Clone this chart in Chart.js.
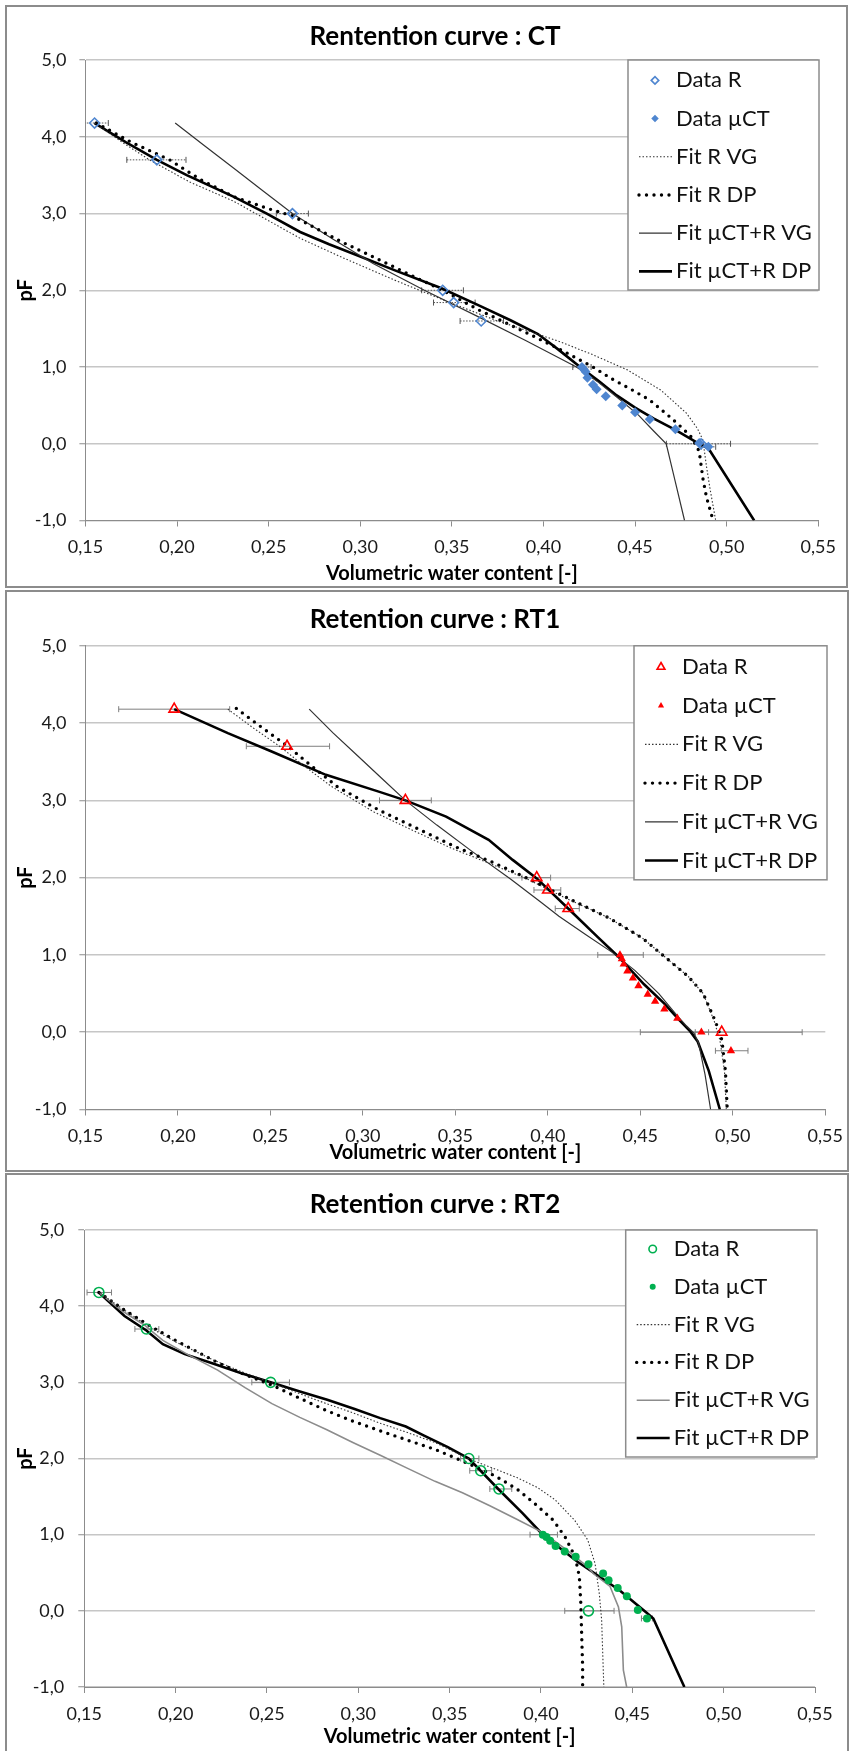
<!DOCTYPE html>
<html>
<head>
<meta charset="utf-8">
<title>Retention curves</title>
<script src="https://cdn.jsdelivr.net/npm/chart.js@4.4.0/dist/chart.umd.min.js"></script>
<style>
  body { margin: 0; background: #fff; }
  #page { position: relative; width: 853px; height: 1751px; overflow: hidden; }
  .frame { position: absolute; border: 2px solid #8c8c8c; box-sizing: border-box; }
  .panel { position: absolute; left: 0; width: 853px; }
</style>
</head>
<body>
<div id="page">
  <div class="frame" style="left:5px;top:5px;width:843px;height:583px"></div>
  <div class="frame" style="left:5px;top:590px;width:844px;height:582px"></div>
  <div class="frame" style="left:5px;top:1173px;width:844px;height:590px"></div>
  <div class="panel" style="top:0;height:588px"><canvas id="ct"></canvas></div>
  <div class="panel" style="top:588px;height:584px"><canvas id="rt1"></canvas></div>
  <div class="panel" style="top:1172px;height:579px"><canvas id="rt2"></canvas></div>
</div>
<script>
// axes and legend
const xTickVals = [0.15, 0.20, 0.25, 0.30, 0.35, 0.40, 0.45, 0.50, 0.55];
const xTickLabels = ['0,15', '0,20', '0,25', '0,30', '0,35', '0,40', '0,45', '0,50', '0,55'];
const yTickVals = [-1, 0, 1, 2, 3, 4, 5];
const yTickLabels = ['-1,0', '0,0', '1,0', '2,0', '3,0', '4,0', '5,0'];
const seriesLabels = ['Data R', 'Data µCT', 'Fit R VG', 'Fit R DP', 'Fit µCT+R VG', 'Fit µCT+R DP'];

/* ---------- CT ---------- */
const ctRx  = [0.155, 0.189, 0.263, 0.345, 0.351, 0.366, 0.486];
const ctRy  = [4.18, 3.7, 3.0, 2.0, 1.84, 1.6, 0.0];
const ctRlo = [0.1475, 0.1726, 0.2542, 0.3335, 0.340, 0.3545, 0.4671];
const ctRhi = [0.1625, 0.2049, 0.2717, 0.3563, 0.3627, 0.3782, 0.5021];
const ctMx  = [0.421, 0.422, 0.423, 0.424, 0.427, 0.429, 0.434, 0.443, 0.450, 0.458, 0.472, 0.485, 0.490];
const ctMy  = [1.00, 0.97, 0.94, 0.86, 0.77, 0.71, 0.62, 0.50, 0.41, 0.32, 0.19, 0.01, -0.04];
const ctMlo = [0.416, null, null, null, null, null, null, null, null, null, null, null, 0.486];
const ctMhi = [0.426, null, null, null, null, null, null, null, null, null, null, null, 0.494];
const ctVgRx = [0.155, 0.17, 0.185, 0.207, 0.231, 0.249, 0.267, 0.29, 0.32, 0.35, 0.375, 0.393, 0.409, 0.427, 0.446, 0.464, 0.478, 0.484, 0.487, 0.489, 0.491, 0.494];
const ctVgRy = [4.18, 3.93, 3.70, 3.41, 3.16, 2.92, 2.68, 2.43, 2.12, 1.83, 1.60, 1.46, 1.33, 1.16, 0.96, 0.70, 0.40, 0.20, 0.05, -0.3, -0.6, -1.0];
const ctDpRx = [0.156, 0.175, 0.196, 0.213, 0.231, 0.249, 0.263, 0.29, 0.311, 0.33, 0.345, 0.365, 0.380, 0.393, 0.404, 0.413, 0.427, 0.437, 0.447, 0.458, 0.469, 0.476, 0.481, 0.485, 0.487, 0.489, 0.492, 0.494];
const ctDpRy = [4.18, 3.93, 3.70, 3.44, 3.22, 3.07, 2.97, 2.63, 2.39, 2.17, 2.0, 1.74, 1.57, 1.42, 1.29, 1.18, 1.0, 0.85, 0.72, 0.57, 0.35, 0.20, 0.08, -0.1, -0.45, -0.7, -0.95, -1.0];
const ctVgMx = [0.199, 0.215, 0.231, 0.247, 0.263, 0.285, 0.307, 0.335, 0.364, 0.39, 0.418, 0.43, 0.442, 0.452, 0.460, 0.467, 0.469, 0.472, 0.477];
const ctVgMy = [4.18, 3.885, 3.59, 3.295, 3.0, 2.67, 2.35, 2.0, 1.66, 1.35, 1.0, 0.80, 0.57, 0.37, 0.17, 0.0, -0.2, -0.5, -1.0];
const ctDpMx = [0.155, 0.172, 0.189, 0.2053, 0.2308, 0.249, 0.2672, 0.283, 0.30, 0.32, 0.344, 0.365, 0.382, 0.397, 0.408, 0.42, 0.43, 0.44, 0.45, 0.46, 0.472, 0.485, 0.490, 0.515];
const ctDpMy = [4.18, 3.93, 3.70, 3.50, 3.22, 3.0, 2.76, 2.60, 2.44, 2.25, 2.03, 1.80, 1.61, 1.43, 1.23, 1.0, 0.82, 0.63, 0.47, 0.33, 0.18, 0.0, -0.06, -1.0];

/* ---------- RT1 ---------- */
const rt1Rx  = [0.198, 0.259, 0.323, 0.394, 0.400, 0.411, 0.494];
const rt1Ry  = [4.18, 3.7, 3.0, 2.0, 1.84, 1.6, 0.0];
const rt1Rlo = [0.168, 0.237, 0.309, 0.386, 0.3925, 0.404, 0.450];
const rt1Rhi = [0.228, 0.282, 0.337, 0.4015, 0.407, 0.417, 0.5375];
const rt1Mx  = [0.439, 0.440, 0.441, 0.443, 0.446, 0.449, 0.454, 0.458, 0.463, 0.470, 0.483, 0.499];
const rt1My  = [1.0, 0.95, 0.88, 0.79, 0.70, 0.60, 0.49, 0.40, 0.30, 0.18, 0.0, -0.24];
const rt1Mlo = [0.427, null, null, null, null, null, null, null, null, null, 0.4797, 0.4906];
const rt1Mhi = [0.4516, null, null, null, null, null, null, null, null, null, 0.4869, 0.5082];
const rt1VgRx = [0.227, 0.24, 0.255, 0.268, 0.283, 0.306, 0.328, 0.348, 0.369, 0.389, 0.411, 0.433, 0.451, 0.465, 0.476, 0.484, 0.490, 0.493, 0.4955, 0.4965];
const rt1VgRy = [4.18, 3.95, 3.70, 3.45, 3.18, 2.85, 2.60, 2.38, 2.18, 1.98, 1.72, 1.48, 1.22, 0.94, 0.72, 0.50, 0.14, -0.1, -0.5, -1.0];
const rt1DpRx = [0.2316, 0.245, 0.2594, 0.272, 0.286, 0.309, 0.33, 0.350, 0.37, 0.39, 0.412, 0.433, 0.451, 0.465, 0.476, 0.484, 0.4906, 0.4941, 0.496, 0.497];
const rt1DpRy = [4.19, 3.95, 3.70, 3.45, 3.18, 2.87, 2.63, 2.40, 2.20, 1.98, 1.72, 1.48, 1.22, 0.94, 0.72, 0.50, 0.14, -0.1, -0.5, -1.0];
const rt1VgMx = [0.271, 0.284, 0.297, 0.31, 0.323, 0.34, 0.359, 0.38, 0.397, 0.406, 0.42, 0.435, 0.447, 0.46, 0.469, 0.475, 0.479, 0.4815, 0.485, 0.488];
const rt1VgMy = [4.18, 3.87, 3.58, 3.29, 3.0, 2.68, 2.34, 1.98, 1.67, 1.5, 1.27, 1.03, 0.80, 0.50, 0.24, 0.08, -0.01, -0.14, -0.55, -1.0];
const rt1DpMx = [0.198, 0.227, 0.251, 0.28, 0.309, 0.323, 0.345, 0.368, 0.381, 0.394, 0.411, 0.427, 0.438, 0.452, 0.463, 0.471, 0.477, 0.481, 0.487, 0.493];
const rt1DpMy = [4.18, 3.87, 3.63, 3.33, 3.11, 3.0, 2.79, 2.49, 2.23, 1.99, 1.6, 1.23, 0.98, 0.62, 0.37, 0.16, 0.01, -0.12, -0.5, -1.0];

/* ---------- RT2 ---------- */
const rt2Rx  = [0.158, 0.184, 0.252, 0.3605, 0.367, 0.377, 0.426];
const rt2Ry  = [4.18, 3.7, 3.0, 2.0, 1.84, 1.6, 0.0];
const rt2Rlo = [0.1515, 0.1777, 0.2417, 0.356, 0.361, 0.372, 0.413];
const rt2Rhi = [0.1649, 0.1908, 0.2623, 0.366, 0.373, 0.384, 0.440];
const rt2Mx  = [0.401, 0.403, 0.405, 0.408, 0.413, 0.419, 0.426, 0.434, 0.437, 0.442, 0.447, 0.453, 0.458];
const rt2My  = [1.0, 0.97, 0.92, 0.85, 0.78, 0.71, 0.61, 0.49, 0.40, 0.30, 0.19, 0.01, -0.10];
const rt2Mlo = [0.394, null, null, null, null, null, null, null, null, null, null, null, 0.455];
const rt2Mhi = [0.409, null, null, null, null, null, null, null, null, null, null, null, 0.461];
const rt2VgRx = [0.158, 0.17, 0.186, 0.2, 0.22, 0.236, 0.252, 0.268, 0.2825, 0.297, 0.3123, 0.327, 0.342, 0.36, 0.375, 0.3868, 0.398, 0.4076, 0.4184, 0.4256, 0.4296, 0.4319, 0.4332, 0.4341, 0.4344];
const rt2VgRy = [4.18, 3.98, 3.72, 3.53, 3.30, 3.14, 3.0, 2.85, 2.72, 2.60, 2.46, 2.34, 2.21, 2.0, 1.86, 1.75, 1.62, 1.46, 1.19, 0.93, 0.62, 0.23, -0.12, -0.78, -1.0];
const rt2DpRx = [0.158, 0.17, 0.186, 0.2, 0.223, 0.238, 0.2521, 0.268, 0.2825, 0.297, 0.3123, 0.327, 0.342, 0.3605, 0.375, 0.3868, 0.396, 0.4067, 0.4132, 0.4187, 0.421, 0.4218, 0.4223, 0.4228, 0.4228];
const rt2DpRy = [4.18, 3.98, 3.74, 3.55, 3.26, 3.10, 2.97, 2.79, 2.63, 2.49, 2.36, 2.24, 2.12, 1.93, 1.77, 1.60, 1.42, 1.19, 0.97, 0.71, 0.45, 0.10, -0.34, -0.73, -1.0];
const rt2VgMx = [0.158, 0.17, 0.183, 0.193, 0.207, 0.223, 0.238, 0.2527, 0.268, 0.2825, 0.297, 0.3123, 0.327, 0.342, 0.357, 0.372, 0.387, 0.4016, 0.414, 0.4254, 0.4286, 0.4378, 0.4424, 0.4442, 0.4451, 0.4469];
const rt2VgMy = [4.18, 3.95, 3.75, 3.55, 3.36, 3.16, 2.93, 2.72, 2.54, 2.38, 2.21, 2.04, 1.87, 1.70, 1.55, 1.38, 1.20, 1.02, 0.80, 0.58, 0.49, 0.32, 0.05, -0.21, -0.78, -1.0];
const rt2DpMx = [0.158, 0.172, 0.184, 0.193, 0.205, 0.22, 0.236, 0.252, 0.268, 0.283, 0.298, 0.312, 0.326, 0.336, 0.349, 0.3605, 0.377, 0.39, 0.401, 0.420, 0.443, 0.458, 0.4615, 0.4743, 0.4785];
const rt2DpMy = [4.18, 3.87, 3.68, 3.50, 3.37, 3.25, 3.12, 3.0, 2.88, 2.77, 2.65, 2.53, 2.42, 2.30, 2.15, 2.0, 1.59, 1.28, 1.0, 0.645, 0.27, -0.03, -0.10, -0.78, -1.0];

Chart.defaults.font.family = 'Lato, "Open Sans", sans-serif';
Chart.defaults.color = '#1a1a1a';

// horizontal error bars, drawn under the markers
function errorBarPlugin(sets, st) {
    return {
        id: 'errorBars',
        beforeDatasetsDraw(chart) {
            const ctx = chart.ctx, a = chart.chartArea, sx = chart.scales.x, sy = chart.scales.y;
            ctx.save();
            ctx.beginPath();
            ctx.rect(a.left, a.top, a.right - a.left, a.bottom - a.top);
            ctx.clip();
            ctx.strokeStyle = st.errColor;
            ctx.lineWidth = 1;
            sets.forEach(function (s) {
                s.y.forEach(function (v, i) {
                    if (s.lo[i] == null) return;
                    const py = sy.getPixelForValue(v);
                    const x0 = sx.getPixelForValue(s.lo[i]);
                    const x1 = sx.getPixelForValue(s.hi[i]);
                    ctx.setLineDash(st.errDash);
                    ctx.beginPath();
                    ctx.moveTo(x0, py); ctx.lineTo(x1, py);
                    ctx.stroke();
                    ctx.setLineDash([]);
                    ctx.beginPath();
                    ctx.moveTo(x0, py - 3); ctx.lineTo(x0, py + 3);
                    ctx.moveTo(x1, py - 3); ctx.lineTo(x1, py + 3);
                    ctx.stroke();
                });
            });
            ctx.restore();
        }
    };
}

// boxed legend inside the plot, top right
function legendPlugin(box) {
    return {
        id: 'boxLegend',
        afterDraw(chart) {
            const ctx = chart.ctx;
            ctx.save();
            ctx.fillStyle = '#fff';
            ctx.fillRect(box.x, box.y, box.w, box.h);
            ctx.strokeStyle = '#8c8c8c';
            ctx.lineWidth = 1.5;
            ctx.strokeRect(box.x, box.y, box.w, box.h);
            chart.data.datasets.forEach(function (ds, i) {
                const cy = box.y + box.first + i * box.gap;
                if (!ds.showLine) {
                    ctx.fillStyle = ds.pointBackgroundColor;
                    ctx.strokeStyle = ds.pointBorderColor;
                    ctx.lineWidth = ds.pointBorderWidth;
                    Chart.helpers.drawPoint(ctx, {
                        pointStyle: ds.pointStyle, radius: ds.pointRadius * 0.75,
                        rotation: 0, borderWidth: ds.pointBorderWidth
                    }, box.x + 27, cy);
                } else {
                    ctx.strokeStyle = ds.borderColor;
                    ctx.lineWidth = ds.borderWidth;
                    ctx.lineCap = ds.borderCapStyle || 'butt';
                    ctx.setLineDash(ds.borderDash || []);
                    ctx.beginPath();
                    ctx.moveTo(box.x + 11, cy);
                    ctx.lineTo(box.x + 44, cy);
                    ctx.stroke();
                    ctx.setLineDash([]);
                    ctx.lineCap = 'butt';
                }
                ctx.fillStyle = '#111';
                ctx.font = '22px Lato, "Open Sans", sans-serif';
                ctx.textAlign = 'left';
                ctx.textBaseline = 'middle';
                ctx.fillText(ds.label, box.x + 48, cy);
            });
            ctx.restore();
        }
    };
}

function makeChart(id, title, d, st, lay) {
    const xy = (xs, ys) => xs.map((x, i) => ({ x: x, y: ys[i] }));
    const padL = 33;                     // room for the y tick labels, which are clipped to the axis box
    const padR = 16;
    const titleRight = 870 - padL;       // title box spans padL..titleRight, centred at x = 435
    const titleLH = 26 * 1.2;
    const titleTop = lay.titleY - titleLH / 2;

    return new Chart(document.getElementById(id), {
        type: 'scatter',
        data: {
            datasets: [
                { label: seriesLabels[0], data: xy(d.rx, d.ry), showLine: false,
                  pointStyle: st.shape, pointRadius: st.rR, pointBorderWidth: 1.6,
                  pointBackgroundColor: 'rgba(255,255,255,0)', pointBorderColor: st.color },
                { label: seriesLabels[1], data: xy(d.mx, d.my), showLine: false,
                  pointStyle: st.shape, pointRadius: st.mR, pointBorderWidth: 0,
                  pointBackgroundColor: st.color, pointBorderColor: st.color },
                { label: seriesLabels[2], data: xy(d.vgRx, d.vgRy), showLine: true, pointRadius: 0,
                  borderColor: '#333', borderWidth: 1.1, borderDash: [1.5, 2] },
                { label: seriesLabels[3], data: xy(d.dpRx, d.dpRy), showLine: true, pointRadius: 0,
                  borderColor: '#000', borderWidth: 3.4, borderDash: [0, 7.5], borderCapStyle: 'round' },
                { label: seriesLabels[4], data: xy(d.vgMx, d.vgMy), showLine: true, pointRadius: 0,
                  borderColor: st.vgColor, borderWidth: st.vgWidth },
                { label: seriesLabels[5], data: xy(d.dpMx, d.dpMy), showLine: true, pointRadius: 0,
                  borderColor: '#000', borderWidth: 2.6 }
            ]
        },
        options: {
            responsive: true,
            maintainAspectRatio: false,
            animation: false,
            events: [],
            layout: { padding: { left: padL, right: padR, top: 0, bottom: 0 } },
            scales: {
                x: {
                    type: 'linear', min: 0.15, max: 0.55,
                    afterBuildTicks: s => { s.ticks = xTickVals.map(v => ({ value: v })); },
                    afterFit: s => { s.height = lay.H - lay.bottom; },
                    ticks: { callback: (v, i) => xTickLabels[i], padding: lay.xPad,
                             font: { size: 18 }, maxRotation: 0, autoSkip: false },
                    grid: { drawOnChartArea: false, tickLength: 6, color: '#8c8c8c' },
                    border: { color: '#8c8c8c' },
                    title: { display: true, text: 'Volumetric water content [-]', color: '#000',
                             font: { size: 20, weight: 'bold' },
                             padding: { top: 0, bottom: lay.H - lay.xTitleY - 12 } }
                },
                y: {
                    type: 'linear', min: -1, max: 5,
                    afterBuildTicks: s => { s.ticks = yTickVals.map(v => ({ value: v })); },
                    afterFit: s => { s.width = lay.left - padL; },
                    ticks: { callback: (v, i) => yTickLabels[i], padding: lay.yPad, font: { size: 18 } },
                    grid: { color: '#c6c6c6', lineWidth: 1.5, tickLength: 6, tickColor: '#8c8c8c', tickWidth: 1 },
                    border: { color: '#8c8c8c' },
                    title: { display: true, text: 'pF', color: '#000', font: { size: 20, weight: 'bold' },
                             padding: { top: 26 - padL - 12, bottom: 0 } }
                },
                // empty spacer on the right so the plot ends where the reference does
                spacer: {
                    type: 'linear', position: 'right', min: -1, max: 5,
                    afterFit: s => { s.width = 853 - padR - lay.right; },
                    grid: { display: false }, ticks: { display: false }, border: { display: false }
                }
            },
            plugins: {
                title: { display: true, text: title, color: '#000', font: { size: 26, weight: 'bold' },
                         padding: { top: titleTop, bottom: lay.top - titleTop - titleLH } },
                legend: { display: false },
                tooltip: { enabled: false }
            }
        },
        plugins: [
            errorBarPlugin([{ y: d.ry, lo: d.rlo, hi: d.rhi }, { y: d.my, lo: d.mlo, hi: d.mhi }], st),
            legendPlugin(lay.legend)
        ]
    });
}

makeChart('ct', 'Rentention curve : CT',
    { rx: ctRx, ry: ctRy, rlo: ctRlo, rhi: ctRhi, mx: ctMx, my: ctMy, mlo: ctMlo, mhi: ctMhi,
      vgRx: ctVgRx, vgRy: ctVgRy, dpRx: ctDpRx, dpRy: ctDpRy,
      vgMx: ctVgMx, vgMy: ctVgMy, dpMx: ctDpMx, dpMy: ctDpMy },
    { shape: 'rectRot', color: '#4f86d0', rR: 5, mR: 5, vgColor: '#333', vgWidth: 1.2,
      errColor: '#555', errDash: [1.5, 1.5] },
    { H: 588, left: 85.4, right: 818.3, top: 60.1, bottom: 520.5, titleY: 37,
      xPad: 10, xTitleY: 574, yPad: 13,
      legend: { x: 628, y: 60, w: 191, h: 230, first: 20.4, gap: 38.2 } });

makeChart('rt1', 'Retention curve : RT1',
    { rx: rt1Rx, ry: rt1Ry, rlo: rt1Rlo, rhi: rt1Rhi, mx: rt1Mx, my: rt1My, mlo: rt1Mlo, mhi: rt1Mhi,
      vgRx: rt1VgRx, vgRy: rt1VgRy, dpRx: rt1DpRx, dpRy: rt1DpRy,
      vgMx: rt1VgMx, vgMy: rt1VgMy, dpMx: rt1DpMx, dpMy: rt1DpMy },
    { shape: 'triangle', color: '#ff0000', rR: 6, mR: 4.8, vgColor: '#333', vgWidth: 1.2,
      errColor: '#7f7f7f', errDash: [] },
    { H: 584, left: 85.4, right: 827, top: 57.8, bottom: 521.5, titleY: 32,
      xPad: 10, xTitleY: 565, yPad: 13,
      legend: { x: 634, y: 57.8, w: 193, h: 234, first: 21.2, gap: 38.7 } });

makeChart('rt2', 'Retention curve : RT2',
    { rx: rt2Rx, ry: rt2Ry, rlo: rt2Rlo, rhi: rt2Rhi, mx: rt2Mx, my: rt2My, mlo: rt2Mlo, mhi: rt2Mhi,
      vgRx: rt2VgRx, vgRy: rt2VgRy, dpRx: rt2DpRx, dpRy: rt2DpRy,
      vgMx: rt2VgMx, vgMy: rt2VgMy, dpMx: rt2DpMx, dpMy: rt2DpMy },
    { shape: 'circle', color: '#00b050', rR: 5, mR: 4, vgColor: '#8c8c8c', vgWidth: 1.6,
      errColor: '#7f7f7f', errDash: [] },
    { H: 579, left: 84.3, right: 815, top: 58, bottom: 515, titleY: 33,
      xPad: 10, xTitleY: 565, yPad: 14,
      legend: { x: 625.7, y: 58, w: 191.3, h: 227, first: 19, gap: 37.8 } });
</script>
</body>
</html>
